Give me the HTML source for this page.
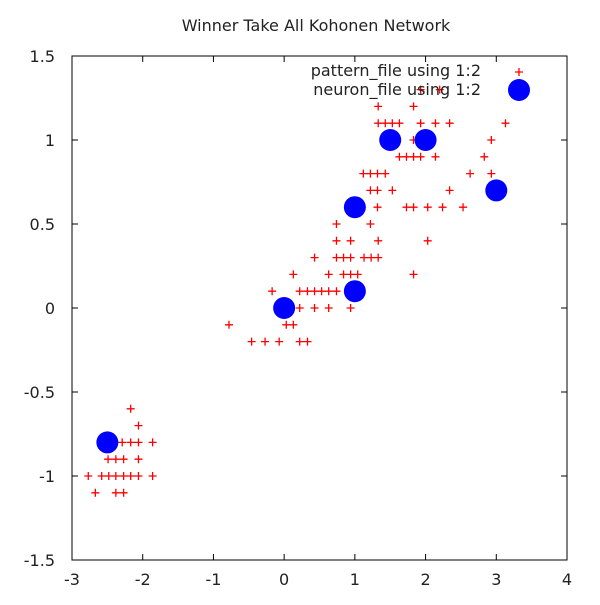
<!DOCTYPE html>
<html><head><meta charset="utf-8"><style>
body{margin:0;background:#fff}
svg text{font-family:"DejaVu Sans","Liberation Sans",sans-serif;font-size:16px;fill:#222}
</style></head><body>
<svg id="c" width="600" height="600" xmlns="http://www.w3.org/2000/svg"></svg>
<script>
const xTicks=[-3,-2,-1,0,1,2,3,4];
const yTicks=[-1.5,-1,-0.5,0,0.5,1,1.5];
const patX=[-2.17,-2.06,-2.29,-2.17,-2.06,-1.86,-2.49,-2.38,-2.27,-2.06,-2.77,-2.58,-2.48,-2.38,-2.27,-2.17,-2.06,-1.86,-2.67,-2.38,-2.27,
-0.78,0.03,0.13,-0.46,-0.27,-0.07,0.22,0.33,0.22,0.43,0.63,0.94,-0.17,0.22,0.33,0.43,0.53,0.63,0.74,0.13,0.63,0.84,0.94,1.04,1.83,
0.43,0.74,0.84,0.94,1.13,1.23,1.33,0.74,0.94,1.33,2.03,0.74,1.22,1.32,1.73,1.83,2.03,2.24,2.53,1.22,1.32,1.53,2.34,
1.12,1.22,1.32,1.43,2.63,2.93,1.63,1.73,1.83,1.93,2.14,2.83,1.83,2.93,1.33,1.43,1.53,1.63,1.93,2.14,2.34,3.13,1.33,1.83,1.93,2.2];
const patY=[-0.6,-0.7,-0.8,-0.8,-0.8,-0.8,-0.9,-0.9,-0.9,-0.9,-1,-1,-1,-1,-1,-1,-1,-1,-1.1,-1.1,-1.1,
-0.1,-0.1,-0.1,-0.2,-0.2,-0.2,-0.2,-0.2,0,0,0,0,0.1,0.1,0.1,0.1,0.1,0.1,0.1,0.2,0.2,0.2,0.2,0.2,0.2,
0.3,0.3,0.3,0.3,0.3,0.3,0.3,0.4,0.4,0.4,0.4,0.5,0.5,0.6,0.6,0.6,0.6,0.6,0.6,0.7,0.7,0.7,0.7,
0.8,0.8,0.8,0.8,0.8,0.8,0.9,0.9,0.9,0.9,0.9,0.9,1,1,1.1,1.1,1.1,1.1,1.1,1.1,1.1,1.1,1.2,1.2,1.3,1.3];
const neuX=[-2.5,0,1,1,1.5,2,3];
const neuY=[-0.8,0,0.1,0.6,1,1,0.7];
const L=72,R=567,T=56,B=560;
const sx=v=>L+(v+3)/7*(R-L), sy=v=>B-(v+1.5)/3*(B-T);
const svg=document.getElementById('c');const NS='http://www.w3.org/2000/svg';
function mk(t,a,p){const e=document.createElementNS(NS,t);for(const k in a)e.setAttribute(k,a[k]);(p||svg).appendChild(e);return e;}
let e=mk('rect',{x:L,y:T,width:R-L,height:B-T,fill:'none',stroke:'#000','stroke-width':1});


e=mk('text',{x:316,y:31,'text-anchor':'middle'});e.textContent='Winner Take All Kohonen Network';


xTicks.forEach(v=>{const x=sx(v);
 mk('line',{x1:x,x2:x,y1:B,y2:B-6,stroke:'#000'});mk('line',{x1:x,x2:x,y1:T,y2:T+6,stroke:'#000'});
 const t=mk('text',{x:x,y:B+25,'text-anchor':'middle'});t.textContent=v;
 
 });
yTicks.forEach(v=>{const y=sy(v);
 mk('line',{x1:L,x2:L+6,y1:y,y2:y,stroke:'#000'});mk('line',{x1:R,x2:R-6,y1:y,y2:y,stroke:'#000'});
 const t=mk('text',{x:L-17,y:y+6,'text-anchor':'end'});t.textContent=v;
 
 });
function plus(x,y,c){const g=mk('path',{d:`M${x-4} ${y}h8M${x} ${y-4}v8`,stroke:c,'stroke-width':1.3,fill:'none'});return g;}
patX.forEach((v,i)=>{const p=plus(sx(v),sy(patY[i]),'#f00');
 
 });
neuX.forEach((v,i)=>{const c=mk('circle',{cx:sx(v),cy:sy(neuY[i]),r:11,fill:'#00f'});
 
 });
e=mk('text',{x:481,y:76,'text-anchor':'end'});e.textContent='pattern_file using 1:2';


plus(519,72,'#f00');
e=mk('text',{x:481,y:95,'text-anchor':'end'});e.textContent='neuron_file using 1:2';


mk('circle',{cx:519,cy:90,r:11,fill:'#00f'});
</script>
</body></html>
